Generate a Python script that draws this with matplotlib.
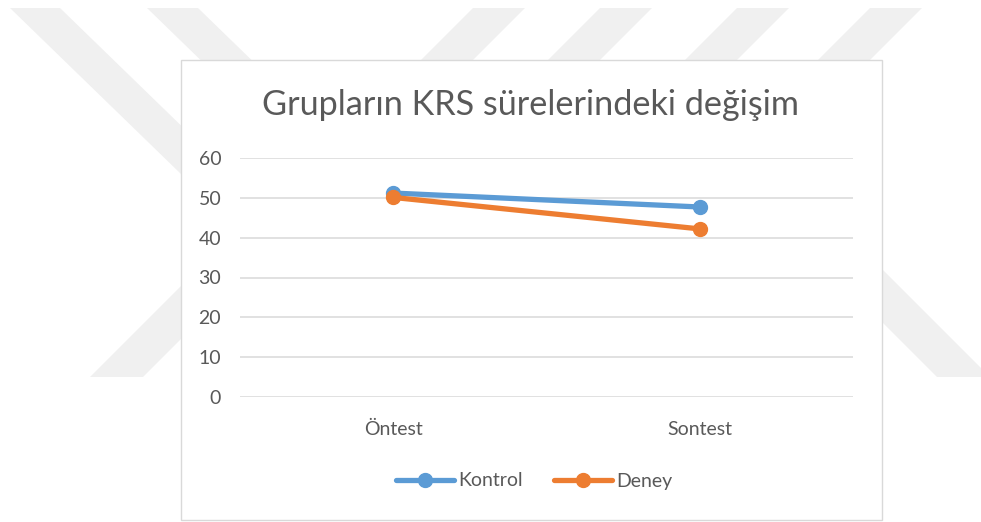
import matplotlib
matplotlib.use("Agg")
import matplotlib.pyplot as plt
from matplotlib.patches import Polygon, Rectangle

# ---- data ----
categories = ["Öntest", "Sontest"]
kontrol = [51.2, 47.7]
deney = [50.1, 42.2]
series_names = ["Kontrol", "Deney"]
yticks = [0, 10, 20, 30, 40, 50, 60]
title = "Grupların KRS sürelerindeki değişim"

W, H = 981, 522
FONT = "Lato"
TXT = "#595959"
plt.rcParams["font.family"] = [FONT, "DejaVu Sans"]

fig = plt.figure(figsize=(W / 100, H / 100), dpi=100)
fig.patch.set_facecolor("white")

# background axes in pixel coords (watermark + chart box)
bg = fig.add_axes([0, 0, 1, 1], zorder=0)
bg.set_xlim(0, W)
bg.set_ylim(H, 0)
bg.axis("off")

wm = "#f0f0f0"
def band(x0, x1, ytop, ybot, slope):
    dy = ybot - ytop
    return Polygon([(x0, ytop), (x1, ytop), (x1 + slope * dy, ybot), (x0 + slope * dy, ybot)],
                   closed=True, facecolor=wm, edgecolor="none")

# "\" bands from top-left
bg.add_patch(band(10, 60, 8, 300, 1.03))
bg.add_patch(band(147, 198, 8, 300, 1.03))
# "/" bands from top-right
for x0 in (473, 600, 737, 870):
    bg.add_patch(band(x0, x0 + 52, 8, 200, -1.0))
# lower-left "/" band
bg.add_patch(band(290, 343, 177, 377, -1.0))
# lower-right "\" band
bg.add_patch(band(737, 790, 177, 377, 1.0))

# chart box
bg.add_patch(Rectangle((181, 60), 701, 460, facecolor="white", edgecolor="#d9d9d9", linewidth=1.0))

# main plot axes
L, R, T, B = 240, 853, 158, 397
ax = fig.add_axes([L / W, 1 - B / H, (R - L) / W, (B - T) / H], zorder=1)
ax.set_facecolor("none")
x = list(range(len(categories)))
ax.plot(x, kontrol, color="#5B9BD5", linewidth=3.8, marker="o", markersize=10,
        solid_capstyle="round", label=series_names[0], zorder=3)
ax.plot(x, deney, color="#ED7D31", linewidth=3.8, marker="o", markersize=10,
        solid_capstyle="round", label=series_names[1], zorder=4)

ax.set_xlim(-0.5, len(categories) - 0.5)
ax.set_ylim(0, 60)
ax.set_yticks(yticks)
ax.set_xticks(x)
ax.set_xticklabels(categories)
ax.grid(axis="y", color="#d9d9d9", linewidth=1.1)
ax.set_axisbelow(True)
for s in ax.spines.values():
    s.set_visible(False)
ax.tick_params(axis="y", length=0, pad=13.5, labelsize=14, labelcolor=TXT)
ax.tick_params(axis="x", length=0, pad=17, labelsize=14, labelcolor=TXT)

# title
t = fig.text(531 / W, 1 - 105 / H, title, ha="center", va="center", color=TXT, fontsize=24)
fig.canvas.draw()
w = t.get_window_extent().width
t.set_fontsize(24 * 538 / w)

leg = fig.legend(loc="center", bbox_to_anchor=(534 / W, 1 - 481 / H), ncol=2, frameon=False,
                 fontsize=14, handlelength=3.0, handletextpad=0.2, columnspacing=1.6,
                 labelcolor=TXT)

fig.savefig("out.png", dpi=100, facecolor="white")
